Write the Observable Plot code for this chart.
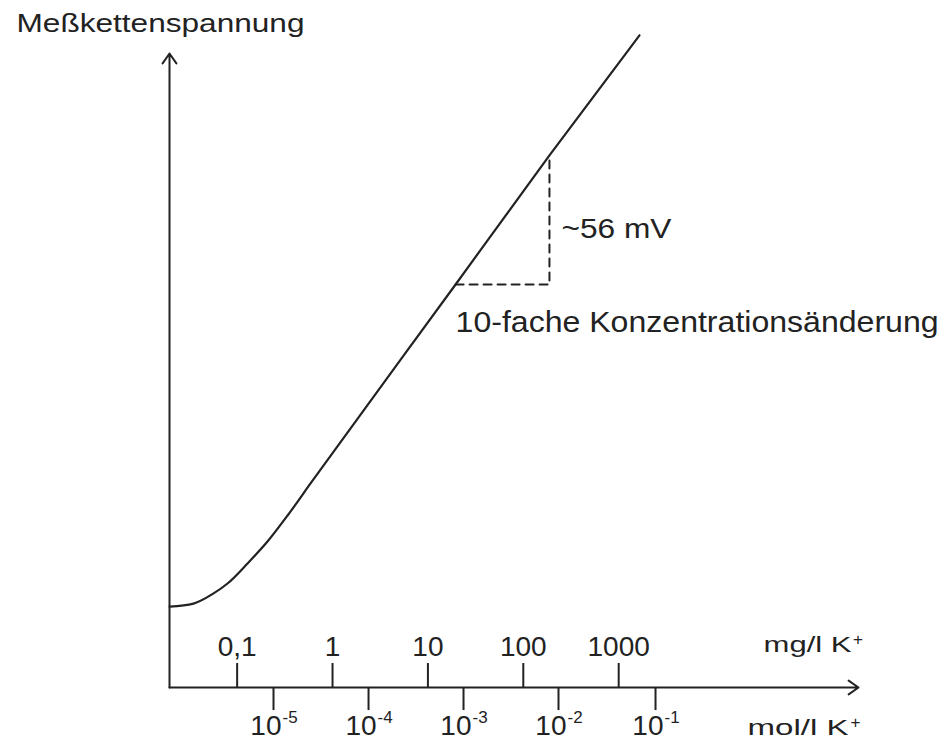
<!DOCTYPE html>
<html><head><meta charset="utf-8">
<script src="https://cdn.jsdelivr.net/npm/d3@7"></script>
<script src="https://cdn.jsdelivr.net/npm/@observablehq/plot@0.6"></script>
<style>body{margin:0;background:#fff;} svg{display:block}</style>
</head><body><div id="chart"></div>
<script>
// Electrode response curve (x: K+ concentration in mg/l, y: cell voltage in mV, arbitrary zero)
const curveMg = [0.0196, 0.0349, 0.0566, 0.0793, 0.1285, 0.208, 0.338, 0.588, 19.5, 188, 1652];
const curveMv = [35.1, 36.4, 40.8, 45.1, 53.8, 63.3, 74.6, 88.5, 174.8, 230.8, 282.9];

// upper tick row (mg/l K+)
const mgTicks = [0.1, 1, 10, 100, 1000];
const mgLabels = ["0,1", "1", "10", "100", "1000"];

// lower tick row (mol/l K+), as drawn, expressed on the mg/l axis
const molTicksMg = [0.2406, 2.385, 23.62, 233.9, 2433];
const molExponents = ["-5", "-4", "-3", "-2", "-1"];

// slope triangle: one decade -> ~56 mV
const triMg = [19.5, 188, 188];
const triMv = [174.8, 174.8, 230.8];

const xDomain = [0.01954, 326600];
const yDomain = [0, 275];

const curve = curveMg.map((m, i) => ({mg: m, mv: curveMv[i]}));
const tri = triMg.map((m, i) => ({mg: m, mv: triMv[i]}));
const axes = [
  {x1: xDomain[0], y1: 0, x2: xDomain[1], y2: 0},
  {x1: xDomain[0], y1: 0, x2: xDomain[0], y2: yDomain[1]}
];
const ink = "#222";

const plot = Plot.plot({
  width: 952, height: 751,
  marginLeft: 169, marginRight: 94, marginTop: 53, marginBottom: 64,
  x: {type: "log", domain: xDomain, axis: null},
  y: {domain: yDomain, axis: null},
  style: {fontFamily: "'Liberation Sans', Arial, sans-serif", background: "#fff", color: ink},
  marks: [
    Plot.arrow(axes, {x1: "x1", y1: "y1", x2: "x2", y2: "y2", stroke: ink, strokeWidth: 2, headLength: 9, headAngle: 70}),
    Plot.ruleX(mgTicks, {x: d => d, y1: 0, y2: 10.4, stroke: ink, strokeWidth: 2}),
    Plot.ruleX(molTicksMg, {x: d => d, y1: 0, y2: -10, stroke: ink, strokeWidth: 2}),
    Plot.line(curve, {x: "mg", y: "mv", curve: "monotone-x", stroke: ink, strokeWidth: 2.2}),
    Plot.line(tri, {x: "mg", y: "mv", stroke: ink, strokeWidth: 2, strokeDasharray: "8,6"}),
    Plot.text(mgTicks, {x: d => d, y: 13.6, text: (d, i) => mgLabels[i], lineAnchor: "bottom", fontSize: 28, fill: ink}),
    Plot.text(molTicksMg, {x: d => d, y: -20.4, text: () => "10", textAnchor: "end", dx: 8, lineAnchor: "bottom", fontSize: 28, fill: ink}),
    Plot.text(molTicksMg, {x: d => d, y: -20.4, text: (d, i) => molExponents[i], textAnchor: "start", dx: 9, dy: -12, lineAnchor: "bottom", fontSize: 17, fill: ink}),
    Plot.text(["mg/l K"], {x: 33000, y: 15.2, textAnchor: "start", lineAnchor: "bottom", fontSize: 22, fill: ink}),
    Plot.text(["+"], {x: 322800, y: 18.5, textAnchor: "middle", lineAnchor: "bottom", fontSize: 17, fill: ink}),
    Plot.text(["mol/l K"], {x: 22430, y: -20.8, textAnchor: "start", lineAnchor: "bottom", fontSize: 22, fill: ink}),
    Plot.text(["+"], {x: 304000, y: -17.4, textAnchor: "middle", lineAnchor: "bottom", fontSize: 17, fill: ink}),
    Plot.text(["~56 mV"], {x: triMg[1], y: 194.8, dx: 12, textAnchor: "start", lineAnchor: "bottom", fontSize: 28, fill: ink}),
    Plot.text(["10-fache Konzentrationsänderung"], {x: triMg[0], y: 154.0, textAnchor: "start", lineAnchor: "bottom", fontSize: 29, fill: ink}),
    Plot.text(["Meßkettenspannung"], {frameAnchor: "top-left", dx: -153, dy: -22, textAnchor: "start", lineAnchor: "bottom", fontSize: 26, fill: ink})
  ]
});

const fits = {
  "Meßkettenspannung": 288,
  "~56 mV": 110,
  "10-fache Konzentrationsänderung": 483,
  "mg/l K": 88,
  "mol/l K": 101
};
d3.select(plot).selectAll("text").each(function () {
  const t = this.textContent;
  if (fits[t]) d3.select(this).attr("textLength", fits[t]).attr("lengthAdjust", "spacingAndGlyphs");
});
document.getElementById("chart").appendChild(plot);
</script>
</body></html>
